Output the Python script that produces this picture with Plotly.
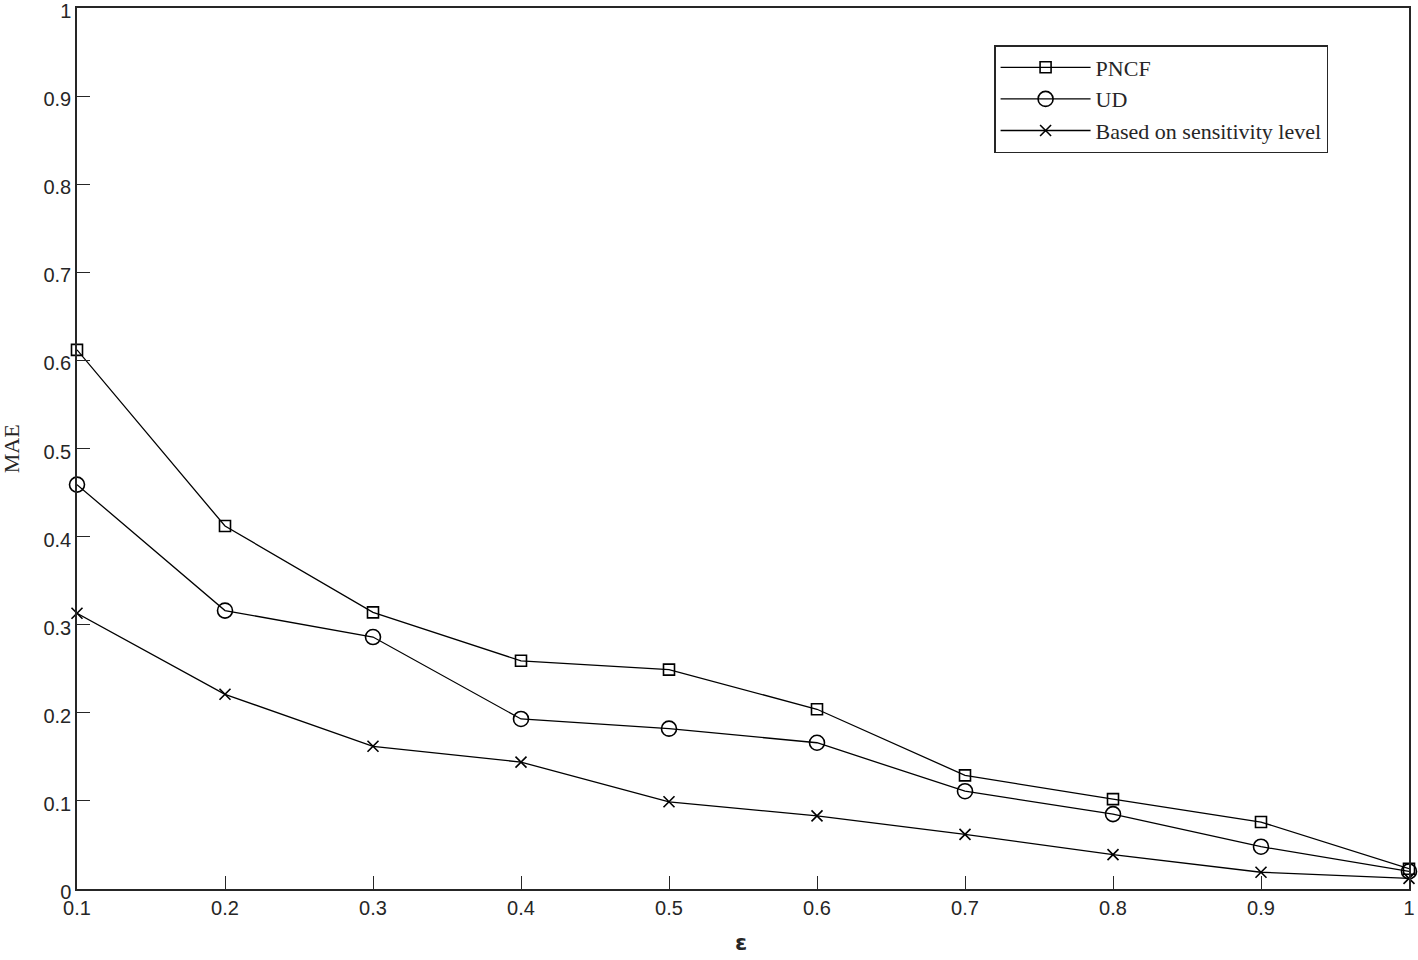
import plotly.graph_objects as go

# epsilon values and MAE per method
eps = [0.1, 0.2, 0.3, 0.4, 0.5, 0.6, 0.7, 0.8, 0.9, 1.0]
mae_pncf = [0.612, 0.412, 0.314, 0.259, 0.249, 0.204, 0.129, 0.102, 0.076, 0.023]
mae_ud = [0.459, 0.316, 0.286, 0.193, 0.182, 0.166, 0.111, 0.085, 0.048, 0.020]
mae_sens = [0.313, 0.221, 0.162, 0.144, 0.099, 0.083, 0.062, 0.039, 0.019, 0.012]

x_ticks = [0.1, 0.2, 0.3, 0.4, 0.5, 0.6, 0.7, 0.8, 0.9, 1.0]
x_labels = ["0.1", "0.2", "0.3", "0.4", "0.5", "0.6", "0.7", "0.8", "0.9", "1"]
y_ticks = [0, 0.1, 0.2, 0.3, 0.4, 0.5, 0.6, 0.7, 0.8, 0.9, 1]
y_labels = ["0", "0.1", "0.2", "0.3", "0.4", "0.5", "0.6", "0.7", "0.8", "0.9", "1"]

fig = go.Figure()

series = [
    ("PNCF", mae_pncf, "square-open", 11),
    ("UD", mae_ud, "circle-open", 15),
    ("Based on sensitivity level", mae_sens, "x-thin-open", 11),
]
for name, vals, sym, size in series:
    fig.add_trace(go.Scatter(
        x=eps, y=vals, name=name, mode="lines+markers",
        line=dict(color="black", width=1.3),
        marker=dict(symbol=sym, size=size, color="black",
                    line=dict(color="black", width=1.6)),
        cliponaxis=False,
    ))

axis_common = dict(
    showline=True, linecolor="#262626", linewidth=1.5, mirror=True,
    ticks="inside", ticklen=13, tickwidth=1.2, tickcolor="#262626",
    showgrid=False, zeroline=False, automargin=False,
    ticklabeloverflow="allow",
    tickfont=dict(family="Liberation Sans, Arial", size=20, color="#262626"),
)

fig.update_xaxes(range=[0.1, 1.0], tickvals=x_ticks, ticktext=x_labels, **axis_common)
# y labels sit a few px below their ticks in the original
fig.update_yaxes(range=[0, 1], tickvals=y_ticks, ticktext=y_labels,
                 ticklabelshift=3, **axis_common)

# axis titles placed as annotations to match the original spacing
fig.add_annotation(text="ε", xref="paper", yref="paper", x=0.4985, y=-0.044,
                   xanchor="center", yanchor="top", showarrow=False,
                   font=dict(family="DejaVu Sans", size=22, color="#262626", weight="bold"))
fig.add_annotation(text="MAE", xref="paper", yref="paper", x=-0.049, y=0.5,
                   xanchor="center", yanchor="middle", showarrow=False, textangle=-90,
                   font=dict(family="Liberation Serif, Times New Roman", size=22, color="#262626"))

fig.update_layout(
    width=1418, height=960,
    margin=dict(l=77, r=9, t=8, b=71),
    plot_bgcolor="white", paper_bgcolor="white",
    legend=dict(
        x=0.6885, y=0.958, xanchor="left", yanchor="top",
        bgcolor="white", bordercolor="#262626", borderwidth=1.5,
        font=dict(family="Liberation Serif, Times New Roman", size=22, color="#262626"),
        itemwidth=90,
    ),
)

# drop the default page margin so the figure sits at the window's top-left corner
fig.write_html("out.html", config={"displayModeBar": False},
               post_script="document.body.style.margin='0';")
